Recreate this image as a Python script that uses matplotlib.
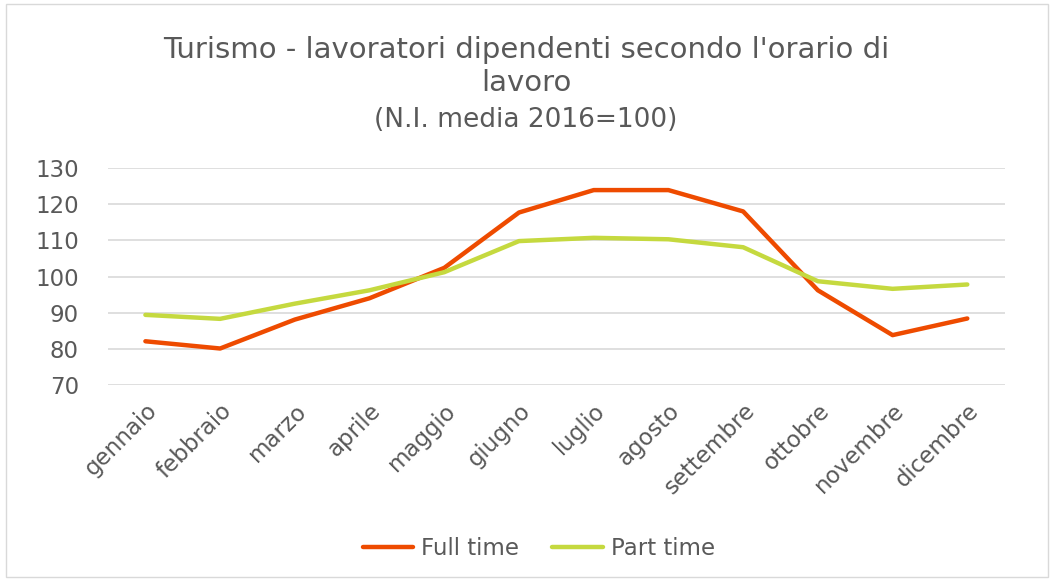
import matplotlib
matplotlib.use("Agg")
import matplotlib.pyplot as plt
from matplotlib.patches import Rectangle

plt.rcParams['font.family'] = ['DejaVu Sans']

months = ["gennaio", "febbraio", "marzo", "aprile", "maggio", "giugno",
          "luglio", "agosto", "settembre", "ottobre", "novembre", "dicembre"]
full_time = [82.1, 80.1, 88.1, 94.0, 102.4, 117.7, 123.9, 123.9, 118.0, 96.2, 83.8, 88.4]
part_time = [89.4, 88.3, 92.5, 96.2, 101.2, 109.8, 110.7, 110.3, 108.1, 98.7, 96.6, 97.8]
yticks = [70, 80, 90, 100, 110, 120, 130]

grey = "#595959"
fig = plt.figure(figsize=(10.52, 5.79), dpi=100)
fig.patches.append(Rectangle((0.006, 0.003), 0.99, 0.99, transform=fig.transFigure,
                             fill=False, edgecolor="#D9D9D9", linewidth=1))
ax = fig.add_axes([0.1027, 0.335, 0.955 - 0.1027, 0.7098 - 0.335])

x = list(range(len(months)))
ax.plot(x, full_time, color="#EE4B00", linewidth=3.2, label="Full time", solid_capstyle="round")
ax.plot(x, part_time, color="#C5D93F", linewidth=3.2, label="Part time", solid_capstyle="round")

ax.set_xlim(-0.5, len(months) - 0.5)
ax.set_ylim(70, 130)
ax.set_yticks(yticks)
ax.set_xticks(x)
ax.set_xticklabels(months, rotation=45, ha="right", rotation_mode="anchor")
for s in ax.spines.values():
    s.set_visible(False)
ax.grid(axis="y", color="#D9D9D9", linewidth=1.2)
ax.set_axisbelow(True)
ax.tick_params(axis="both", length=0, colors=grey, labelsize=16.5)
ax.tick_params(axis="y", pad=21)
ax.tick_params(axis="x", pad=10)

fig.text(0.5, 0.913, "Turismo - lavoratori dipendenti secondo l'orario di", ha="center", va="center",
         fontsize=21, color=grey)
fig.text(0.5, 0.857, "lavoro", ha="center", va="center", fontsize=21, color=grey)
fig.text(0.5, 0.793, "(N.I. media 2016=100)", ha="center", va="center", fontsize=19, color=grey)

leg = fig.legend(loc="center", bbox_to_anchor=(0.512, 0.053), ncol=2, frameon=False,
                 fontsize=16.5, handlelength=2.2, columnspacing=1.45, handletextpad=0.35)
for t in leg.get_texts():
    t.set_color(grey)

fig.savefig("out.png", dpi=100)
